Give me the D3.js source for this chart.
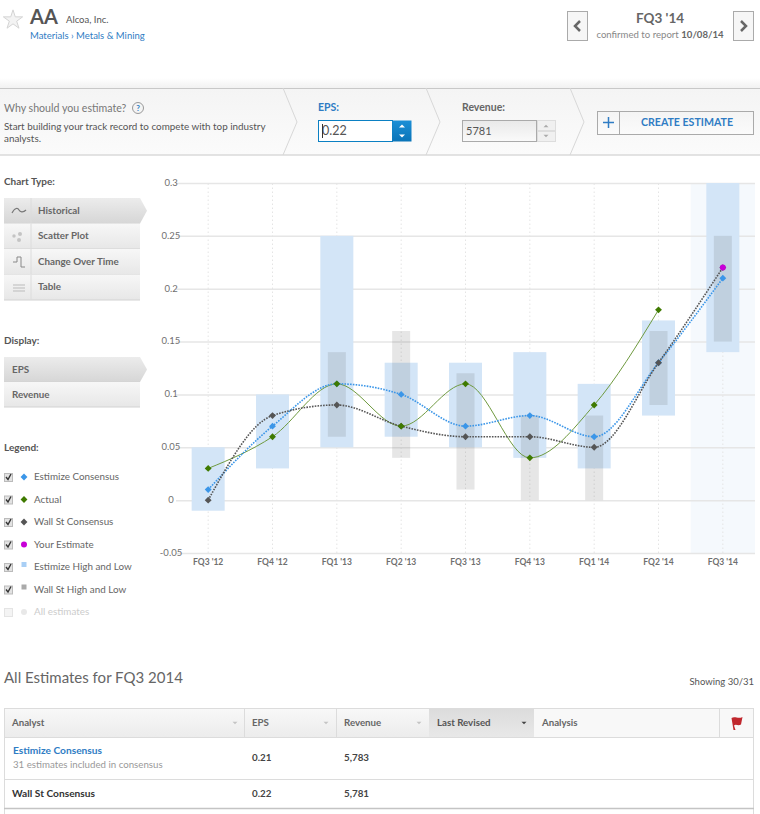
<!DOCTYPE html>
<html>
<head>
<meta charset="utf-8">
<title>AA - Alcoa, Inc.</title>
<script src="https://cdnjs.cloudflare.com/ajax/libs/d3/7.8.5/d3.min.js"></script>
<style>
  html, body { margin: 0; padding: 0; background: #fff; }
  svg { display: block; }
  text { font-family: Lato, "Open Sans", sans-serif; }
  .grid-y line { stroke: #e6e6e6; stroke-width: 1.5; }
  .grid-x line { stroke: #e4e4e4; stroke-dasharray: 1.5, 2.5; }
  .axis path { display: none; }
  .axis text { fill: #6f6f6f; font-size: 9.5px; }
  .grid-x text { font-weight: 700; font-size: 8.5px; }
</style>
</head>
<body>
<script>
// chart values
var quarters = ["FQ3 '12", "FQ4 '12", "FQ1 '13", "FQ2 '13", "FQ3 '13", "FQ4 '13", "FQ1 '14", "FQ2 '14", "FQ3 '14"];
var estimizeConsensus = [0.01, 0.07, 0.11, 0.10, 0.07, 0.08, 0.06, 0.13, 0.21];
var actual = [0.03, 0.06, 0.11, 0.07, 0.11, 0.04, 0.09, 0.18, null];
var wallStConsensus = [0, 0.08, 0.09, 0.07, 0.06, 0.06, 0.05, 0.13, 0.22];
var yourEstimate = [null, null, null, null, null, null, null, null, 0.22];
var estimizeHigh = [0.05, 0.10, 0.25, 0.13, 0.13, 0.14, 0.11, 0.17, 0.30];
var estimizeLow = [-0.01, 0.03, 0.05, 0.06, 0.05, 0.04, 0.03, 0.08, 0.14];
var wallStHigh = [null, null, 0.14, 0.16, 0.12, 0.08, 0.08, 0.16, 0.25];
var wallStLow = [null, null, 0.06, 0.04, 0.01, 0, 0, 0.09, 0.15];
var yTicks = [-0.05, 0, 0.05, 0.1, 0.15, 0.2, 0.25, 0.3];

// page text
var chartTypes = ["Historical", "Scatter Plot", "Change Over Time", "Table"];
var displays = ["EPS", "Revenue"];
var legendLabels = ["Estimize Consensus", "Actual", "Wall St Consensus", "Your Estimate", "Estimize High and Low", "Wall St High and Low", "All estimates"];
var tableHeaders = ["Analyst", "EPS", "Revenue", "Last Revised", "Analysis"];
var tableEps = ["0.21", "0.22"];
var tableRevenue = ["5,783", "5,781"];

var svgWidth = 760;
var svgHeight = 814;

var blue = "#3b96e8";
var green = "#3f7a00";
var dark = "#555";
var magenta = "#c800d8";
var linkBlue = "#2f7cc4";

var svg = d3.select("body")
  .append("svg")
  .attr("width", svgWidth)
  .attr("height", svgHeight);

var defs = svg.append("defs");

function addGradient(id, top, bottom) {
  var g = defs.append("linearGradient")
    .attr("id", id)
    .attr("x1", 0).attr("x2", 0).attr("y1", 0).attr("y2", 1);
  g.append("stop").attr("offset", "0%").attr("stop-color", top);
  g.append("stop").attr("offset", "100%").attr("stop-color", bottom);
}
addGradient("btn", "#f7f7f7", "#e7e7e7");
addGradient("active", "#ececec", "#d6d6d6");
addGradient("band", "#f4f4f4", "#fbfbfb");
addGradient("shade", "#ffffff", "#f1f1f1");
addGradient("stepBlue", "#1c8fd6", "#0a74b8");
addGradient("head", "#f8f8f8", "#ececec");
addGradient("sorted", "#dcdcdc", "#e8e8e8");
addGradient("inset", "#e9e9e9", "#fafafa");

function label(parent, x, y, str, size, color, weight, anchor) {
  return parent.append("text")
    .attr("x", x)
    .attr("y", y)
    .attr("font-size", size)
    .attr("fill", color)
    .attr("font-weight", weight || 400)
    .attr("text-anchor", anchor || "start")
    .text(str);
}

function box(parent, x, y, w, h, fill, stroke) {
  return parent.append("rect")
    .attr("x", x + 0.5)
    .attr("y", y + 0.5)
    .attr("width", w)
    .attr("height", h)
    .attr("fill", fill)
    .attr("stroke", stroke || "none");
}

function caret(parent, x, y, size, color, up) {
  var dir = up ? -1 : 1;
  parent.append("path")
    .attr("d", `M${x - size},${y - dir * size / 2}L${x + size},${y - dir * size / 2}L${x},${y + dir * size / 2}Z`)
    .attr("fill", color);
}

// header
var header = svg.append("g");
header.append("path")
  .attr("transform", "translate(13,20)")
  .attr("d", d3.symbol().type(d3.symbolStar).size(115)())
  .attr("fill", "#f3f3f3")
  .attr("stroke", "#d4d4d4");
label(header, 30, 24, "AA", 20, "#555", 700);
label(header, 66, 23, "Alcoa, Inc.", 9.5, "#555");
label(header, 30, 39, "Materials › Metals & Mining", 9.5, linkBlue);

box(header, 567, 11, 20, 29, "#f6f6f6", "#aaa");
box(header, 733, 11, 20, 29, "#f6f6f6", "#aaa");
header.append("path").attr("d", "M580,21L575,26L580,31").attr("fill", "none").attr("stroke", "#666").attr("stroke-width", 2.5);
header.append("path").attr("d", "M741,21L746,26L741,31").attr("fill", "none").attr("stroke", "#666").attr("stroke-width", 2.5);
label(header, 660, 23, "FQ3 '14", 13.5, "#666", 700, "middle");
var confirmed = label(header, 660, 38, "confirmed to report ", 9.6, "#888", 400, "middle");
confirmed.append("tspan").attr("font-weight", 700).attr("fill", "#666").text("10/08/14");

// estimate band
var band = svg.append("g");
band.append("rect").attr("x", 0).attr("y", 78).attr("width", svgWidth).attr("height", 10).attr("fill", "url(#shade)");
band.append("rect").attr("x", 0).attr("y", 88).attr("width", svgWidth).attr("height", 67).attr("fill", "url(#band)");
band.append("path").attr("d", "M0,88.5H760M0,155H760").attr("stroke", "#c8c8c8").attr("fill", "none");
[283, 426, 570].forEach(function(x) {
  band.append("path")
    .attr("d", `M${x},88L${x + 14},122L${x},155`)
    .attr("fill", "none")
    .attr("stroke", "#d8d8d8");
});
label(band, 4, 112, "Why should you estimate?", 10.6, "#777");
band.append("circle").attr("cx", 138).attr("cy", 108).attr("r", 5.5).attr("fill", "#f4f4f4").attr("stroke", "#999");
label(band, 138, 111, "?", 8, linkBlue, 700, "middle");
label(band, 4, 130, "Start building your track record to compete with top industry", 9.85, "#555");
label(band, 4, 142, "analysts.", 9.85, "#555");

label(band, 318, 111, "EPS:", 10.5, linkBlue, 700);
box(band, 318, 120, 74, 21, "#fff", "#0b80c3");
box(band, 392, 120, 19, 21, "url(#stepBlue)");
caret(band, 402, 126, 3, "#fff", true);
caret(band, 402, 136, 3, "#fff", false);
label(band, 322, 135, "0.22", 12.5, "#555");
band.append("line").attr("x1", 322.5).attr("x2", 322.5).attr("y1", 124).attr("y2", 138).attr("stroke", "#333");

label(band, 462, 111, "Revenue:", 10.5, "#666", 700);
box(band, 462, 120, 74, 21, "url(#inset)", "#aaa");
box(band, 537, 120, 18, 10, "#f0f0f0", "#ddd");
box(band, 537, 131, 18, 10, "#f0f0f0", "#ddd");
caret(band, 546, 126, 2.5, "#aaa", true);
caret(band, 546, 136, 2.5, "#aaa", false);
label(band, 466, 135, "5781", 11, "#555");

box(band, 597, 111, 156, 23, "url(#band)", "#aaa");
band.append("line").attr("x1", 619.5).attr("x2", 619.5).attr("y1", 111).attr("y2", 134).attr("stroke", "#aaa");
band.append("path").attr("d", "M608.5,117V128M603,122.5H614").attr("stroke", linkBlue).attr("stroke-width", 1.5);
label(band, 687, 126, "CREATE ESTIMATE", 10.6, linkBlue, 700, "middle");

// sidebar menus
var side = svg.append("g");

function menu(items, top, rowH, textX, divider) {
  items.forEach(function(name, i) {
    var y = top + i * rowH;
    if (i === 0) {
      side.append("path")
        .attr("d", `M4,${y}H140L147,${y + rowH / 2}L140,${y + rowH}H4Z`)
        .attr("fill", "url(#active)");
    } else {
      side.append("rect")
        .attr("x", 4).attr("y", y).attr("width", 136).attr("height", rowH)
        .attr("fill", "url(#btn)");
    }
    side.append("line")
      .attr("x1", 4).attr("x2", 140)
      .attr("y1", y + rowH).attr("y2", y + rowH)
      .attr("stroke", "#d2d2d2");
    if (divider) {
      side.append("line")
        .attr("x1", 31).attr("x2", 31)
        .attr("y1", y).attr("y2", y + rowH)
        .attr("stroke", "#dcdcdc");
    }
    label(side, textX, y + rowH / 2 + 3, name, 9.8, "#666", 700);
  });
}

label(side, 4, 185, "Chart Type:", 10, "#555", 700);
menu(chartTypes, 198, 25.5, 38, true);
label(side, 4, 344, "Display:", 10, "#555", 700);
menu(displays, 357, 25, 12, false);

// chart type icons
side.append("path").attr("d", "M12,213C15,207 18,208 19,210C20,212 23,213 26,210").attr("fill", "none").attr("stroke", "#777").attr("stroke-width", 1.2);
side.selectAll(".dot")
  .data([[14, 236, 1.7], [20, 234, 2], [19, 240, 2]])
  .enter()
  .append("circle")
  .attr("cx", d => d[0]).attr("cy", d => d[1]).attr("r", d => d[2])
  .attr("fill", "#c4c4c4");
side.append("path").attr("d", "M13,262H17V257H21V267H25").attr("fill", "none").attr("stroke", "#888");
side.append("path").attr("d", "M13,285H25M13,288H25M13,291H25").attr("fill", "none").attr("stroke", "#bbb");

// legend
var diamond = d3.symbol().type(d3.symbolDiamond2).size(30);
label(side, 4, 451, "Legend:", 10, "#555", 700);
var legendY = d3.scalePoint().domain(legendLabels).range([477, 612]);
var legendDraw = [
  g => g.append("path").attr("d", diamond()).attr("fill", blue),
  g => g.append("path").attr("d", diamond()).attr("fill", green),
  g => g.append("path").attr("d", diamond()).attr("fill", dark),
  g => g.append("circle").attr("r", 3).attr("fill", magenta),
  g => g.append("rect").attr("x", -2.5).attr("y", -5).attr("width", 5).attr("height", 5).attr("fill", "#a9cff5"),
  g => g.append("rect").attr("x", -2.5).attr("y", -5).attr("width", 5).attr("height", 5).attr("fill", "#aaa"),
  g => g.append("circle").attr("r", 3).attr("fill", "#e8e8e8")
];
legendLabels.forEach(function(name, i) {
  var y = legendY(name);
  var off = i === legendLabels.length - 1;
  box(side, 4, y - 4, 8, 8, off ? "#f4f4f4" : "#e2e2e2", off ? "#e4e4e4" : "#bbb");
  if (!off) {
    side.append("path")
      .attr("d", `M6,${y}L8,${y + 2.5}L11,${y - 3}`)
      .attr("fill", "none")
      .attr("stroke", "#333")
      .attr("stroke-width", 1.4);
  }
  legendDraw[i](side.append("g").attr("transform", `translate(24,${y})`));
  label(side, 34, y + 3, name, 9.85, off ? "#ccc" : "#666");
});

// the chart itself
var margin = { top: 183, right: 5, bottom: 261, left: 176 };
var width = svgWidth - margin.left - margin.right;
var height = svgHeight - margin.top - margin.bottom;

var chartGroup = svg.append("g")
  .attr("transform", `translate(${margin.left}, ${margin.top})`);

var xScale = d3.scaleBand().domain(quarters).range([0, width]);
var yScale = d3.scaleLinear().domain([-0.05, 0.3]).range([height, 0]);
var cx = i => xScale(quarters[i]) + xScale.bandwidth() / 2;

// current quarter highlight
chartGroup.append("rect")
  .attr("x", xScale(quarters[8]))
  .attr("y", 0)
  .attr("width", xScale.bandwidth())
  .attr("height", height)
  .attr("fill", "#f5f9fd");

var leftAxis = d3.axisLeft(yScale)
  .tickValues(yTicks)
  .tickSize(-width)
  .tickFormat(d => String(d));

chartGroup.append("g")
  .attr("class", "axis grid-y")
  .call(leftAxis)
  .call(g => g.selectAll("text").attr("text-anchor", "middle").attr("x", -5).attr("dy", "0.25em"))
  .call(g => g.selectAll("line").filter(d => d === -0.05).attr("stroke", "#dcdcdc").attr("stroke-width", 2));

var bottomAxis = d3.axisBottom(xScale)
  .tickSize(-height)
  .tickPadding(6);

chartGroup.append("g")
  .attr("class", "axis grid-x")
  .attr("transform", `translate(0, ${height})`)
  .call(bottomAxis);

function drawBars(high, low, barWidth, color) {
  chartGroup.append("g")
    .selectAll("rect")
    .data(quarters.map((q, i) => i).filter(i => high[i] !== null))
    .enter()
    .append("rect")
    .attr("x", i => cx(i) - barWidth / 2)
    .attr("y", i => yScale(high[i]))
    .attr("width", barWidth)
    .attr("height", i => yScale(low[i]) - yScale(high[i]))
    .attr("fill", color);
}
drawBars(estimizeHigh, estimizeLow, 33, "#d3e5f7");
drawBars(wallStHigh, wallStLow, 18, "rgba(90,90,90,0.15)");

function drawLine(values, color, lineWidth, dash) {
  var line = d3.line()
    .defined(d => d !== null)
    .x((d, i) => cx(i))
    .y(d => yScale(d))
    .curve(d3.curveMonotoneX);
  chartGroup.append("path")
    .attr("d", line(values))
    .attr("fill", "none")
    .attr("stroke", color)
    .attr("stroke-width", lineWidth)
    .attr("stroke-dasharray", dash);
}
drawLine(actual, "#6f9a3f", 1, null);
drawLine(estimizeConsensus, blue, 1.6, "1.6,1.2");
drawLine(wallStConsensus, dark, 1.6, "1.6,1.2");

function drawDiamonds(values, color) {
  chartGroup.append("g")
    .selectAll("path")
    .data(values.map((v, i) => i).filter(i => values[i] !== null))
    .enter()
    .append("path")
    .attr("transform", i => `translate(${cx(i)},${yScale(values[i])})`)
    .attr("d", diamond())
    .attr("fill", color);
}
drawDiamonds(estimizeConsensus, blue);
drawDiamonds(wallStConsensus, dark);
drawDiamonds(actual, green);

chartGroup.append("g")
  .selectAll("circle")
  .data(yourEstimate.map((v, i) => i).filter(i => yourEstimate[i] !== null))
  .enter()
  .append("circle")
  .attr("cx", i => cx(i))
  .attr("cy", i => yScale(yourEstimate[i]))
  .attr("r", 3)
  .attr("fill", magenta);

// estimates table
var table = svg.append("g");
label(table, 4, 683, "All Estimates for FQ3 2014", 15, "#666");
label(table, 754, 685, "Showing 30/31", 9.5, "#555", 400, "end");

var colX = [4, 244, 336, 429, 534, 719, 753];
table.append("rect").attr("x", 4).attr("y", 709).attr("width", 425).attr("height", 28).attr("fill", "url(#head)");
table.append("rect").attr("x", 429).attr("y", 709).attr("width", 105).attr("height", 28).attr("fill", "url(#sorted)");
table.append("rect").attr("x", 534).attr("y", 709).attr("width", 219).attr("height", 28).attr("fill", "#f8f8f8");
table.append("path")
  .attr("d", "M4,708.5H753.5M4,737.5H753.5M4,779.5H753.5M4.5,708V814M753.5,708V814M244.5,708V737M336.5,708V737M719.5,708V737")
  .attr("stroke", "#dcdcdc")
  .attr("fill", "none");
table.append("line").attr("x1", 4).attr("x2", 754).attr("y1", 808.5).attr("y2", 808.5).attr("stroke", "#c4c4c4").attr("stroke-width", 1.5);

tableHeaders.forEach(function(name, i) {
  label(table, colX[i] + 8, 726, name, 9.7, i === 3 ? "#555" : "#666", 700);
});
[235, 326, 419].forEach(x => caret(table, x, 723, 2.5, "#c4c4c4", false));
caret(table, 524, 723, 2.5, "#444", false);
table.append("path")
  .attr("d", "M731.5,718C735,715.5 738,719.5 742.5,717L741,724.5C738,726.5 736,723.5 734,725.5L735.5,730L733.5,730Z")
  .attr("fill", "#c0272d");

label(table, 13, 754, "Estimize Consensus", 10.2, linkBlue, 700);
label(table, 13, 768, "31 estimates included in consensus", 9.7, "#999");
label(table, 12, 797, "Wall St Consensus", 10.2, "#333", 700);
var rowY = [761, 797];
tableEps.forEach(function(v, i) {
  label(table, 252, rowY[i], v, 9.8, "#444", 700);
  label(table, 344, rowY[i], tableRevenue[i], 9.8, "#444", 700);
});
</script>
</body>
</html>
